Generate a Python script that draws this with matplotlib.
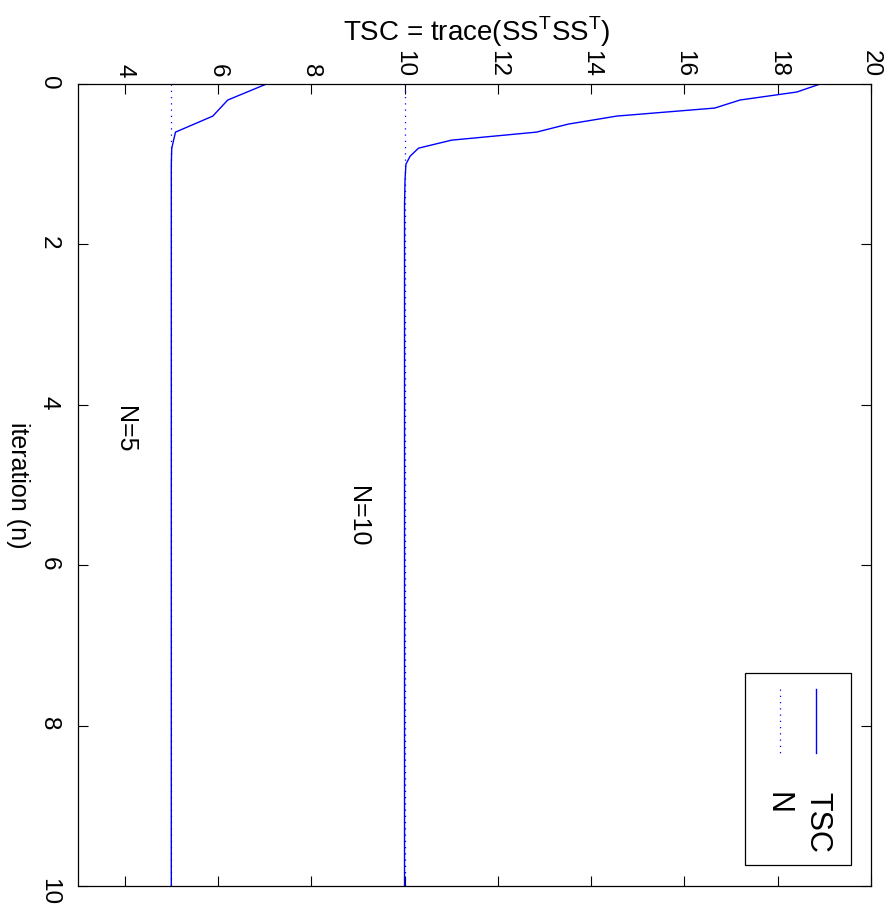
import matplotlib
matplotlib.use('Agg')
from matplotlib import pyplot as plt
from matplotlib.patches import Rectangle

plt.rcParams['font.family'] = ['Liberation Sans', 'DejaVu Sans']
plt.rcParams['mathtext.fontset'] = 'custom'
plt.rcParams['mathtext.rm'] = 'Liberation Sans'

# TSC convergence, N=10 (iteration n, TSC value)
n_10 = [0.0, 0.1, 0.2, 0.3, 0.4, 0.5, 0.6, 0.7, 0.8, 0.9, 1.0, 1.2, 1.5, 2.0, 10.0]
tsc_10 = [18.91, 18.41, 17.19, 16.65, 14.55, 13.51, 12.83, 11.01, 10.30, 10.12, 10.03, 10.01, 10.0, 10.0, 10.0]

# TSC convergence, N=5
n_5 = [0.0, 0.2, 0.4, 0.6, 0.8, 1.0, 1.5, 10.0]
tsc_5 = [7.04, 6.21, 5.89, 5.09, 5.01, 5.0, 5.0, 5.0]

# lower bound N
n_bound = [0.0, 10.0]
bounds = [5, 10]
labels = ['N=5', 'N=10']
label_pos = [(4.0, 4.3), (9.0, 5.39)]

x_ticks = [4, 6, 8, 10, 12, 14, 16, 18, 20]
y_ticks = [0, 2, 4, 6, 8, 10]

W, H = 889, 924
fig = plt.figure(figsize=(W / 100, H / 100), dpi=100)
ax = fig.add_axes([78 / W, 1 - 886 / H, (871 - 78) / W, (886 - 84) / H])

fs = 18
blue = '#0000ff'

for b in bounds:
    ax.plot([b, b], n_bound, linestyle=(0, (1, 4)), color=blue, lw=0.9)
ax.plot(tsc_10, n_10, color=blue, lw=1.0)
ax.plot(tsc_5, n_5, color=blue, lw=1.0)

for lab, (xv, yv) in zip(labels, label_pos):
    ax.text(xv, yv, lab, rotation=-90, ha='center', va='center', fontsize=fs)

ax.set_xlim(3, 20)
ax.set_ylim(10, 0)
ax.set_xticks(x_ticks)
ax.set_yticks(y_ticks)
ax.xaxis.tick_top()
ax.tick_params(axis='both', direction='in', length=7, width=0.8,
               top=True, bottom=True, left=True, right=True, labelsize=17.5)
ax.tick_params(axis='x', pad=5)
ax.tick_params(axis='y', pad=13)
for t in ax.get_xticklabels():
    t.set_rotation(-90)
for t in ax.get_yticklabels():
    t.set_rotation(-90)
for s in ax.spines.values():
    s.set_linewidth(0.9)

fig.text(477 / W, 1 - 32 / H, r'TSC = trace(SS$^\mathrm{T}$SS$^\mathrm{T}$)',
         ha='center', va='center', fontsize=20)
fig.text(18 / W, 1 - 485 / H, 'iteration (n)', rotation=-90,
         ha='center', va='center', fontsize=fs)

# legend drawn by hand, rotated like the rest of the page
ax.add_patch(Rectangle((745 / W, 1 - 865 / H), (851 - 745) / W, (865 - 673) / H,
                       transform=fig.transFigure, fill=True, facecolor='white',
                       edgecolor='black', lw=0.9, zorder=5))
fig.add_artist(plt.Line2D([816 / W, 816 / W], [1 - 689 / H, 1 - 753 / H],
                          color=blue, lw=1.0, zorder=6))
fig.add_artist(plt.Line2D([780 / W, 780 / W], [1 - 689 / H, 1 - 753 / H],
                          color=blue, lw=0.9, linestyle=(0, (1, 4)), zorder=6))
fig.text(817 / W, 1 - 792 / H, 'TSC', rotation=-90, ha='center', va='top',
         fontsize=22, zorder=6)
fig.text(777 / W, 1 - 792 / H, 'N', rotation=-90, ha='center', va='top',
         fontsize=22, zorder=6)

fig.savefig('out.png', dpi=100)
